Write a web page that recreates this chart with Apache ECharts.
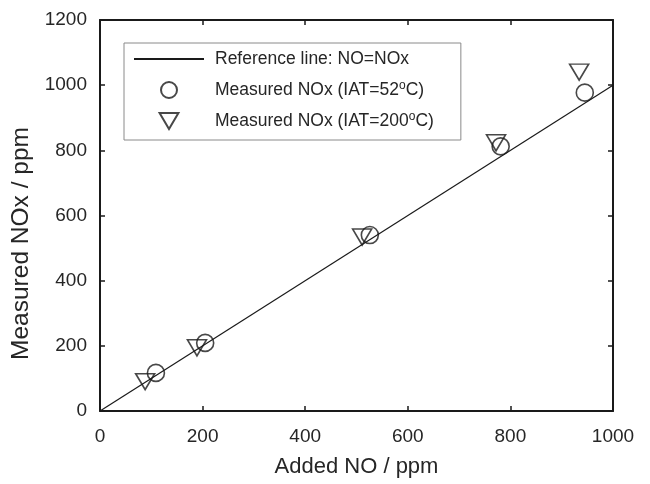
<!DOCTYPE html>
<html>
<head>
<meta charset="utf-8">
<script src="https://cdn.jsdelivr.net/npm/echarts@6/dist/echarts.min.js"></script>
<style>
  html, body { margin: 0; padding: 0; background: #fff; }
  #chart { width: 650px; height: 484px; }
</style>
</head>
<body>
<div id="chart"></div>
<script>
// reference line NO = NOx
var refX = [0, 1000];
var refY = [0, 1000];
// measured NOx, IAT = 52 C
var added52 = [109, 205, 526, 781, 945];
var meas52 = [117, 209, 540, 812, 977];
// measured NOx, IAT = 200 C
var added200 = [88, 189, 511, 772, 934];
var meas200 = [90, 194, 534, 823, 1040];

var xTicks = [0, 200, 400, 600, 800, 1000];
var yTicks = [0, 200, 400, 600, 800, 1000, 1200];

function pairs(xs, ys) {
    return xs.map(function (x, i) { return [x, ys[i]]; });
}

var myChart = echarts.init(document.getElementById('chart'));

var font = 'Liberation Sans, Arial, Helvetica, sans-serif';
var triDown = 'path://M0,0 L20,0 L10,17 Z';

var mainAxisLine = { show: true, onZero: false, lineStyle: { color: '#1a1a1a', width: 2 } };
var tickIn = { show: true, inside: true, length: 5, lineStyle: { color: '#1a1a1a', width: 1.5 } };

var option = {
    backgroundColor: '#fff',
    animation: false,
    textStyle: { fontFamily: font },
    grid: { left: 100, right: 37, top: 20, bottom: 73 },
    legend: {
        orient: 'vertical',
        left: 124,
        top: 43,
        padding: [7, 27, 10, 9],
        itemGap: 11.5,
        itemWidth: 70,
        itemHeight: 16,
        borderColor: '#8a8a8a',
        borderWidth: 1,
        backgroundColor: '#fff',
        data: ['Reference line: NO=NOx', 'Measured NOx (IAT=52oC)', 'Measured NOx (IAT=200oC)'],
        formatter: function (name) {
            return name.replace(/(\d)oC/, '$1{sup|o}C');
        },
        textStyle: {
            fontSize: 17.5,
            color: '#262626',
            padding: [0, 0, 0, 6],
            rich: {
                sup: { fontSize: 12, verticalAlign: 'top', padding: [0, 0, 9, 0], color: '#262626' }
            }
        }
    },
    xAxis: [{
        type: 'value',
        min: 0, max: 1000, interval: 200,
        name: 'Added NO / ppm',
        nameLocation: 'middle',
        nameGap: 45,
        nameTextStyle: { fontSize: 22, color: '#262626' },
        axisLine: mainAxisLine,
        axisTick: tickIn,
        axisLabel: {
            fontSize: 19, color: '#262626', margin: 16,
            formatter: function (v) { return xTicks.indexOf(v) >= 0 ? String(v) : ''; }
        },
        splitLine: { show: false }
    }, {
        type: 'value',
        position: 'top',
        min: 0, max: 1000, interval: 200,
        axisLine: mainAxisLine,
        axisTick: tickIn,
        axisLabel: { show: false },
        splitLine: { show: false }
    }],
    yAxis: [{
        type: 'value',
        min: 0, max: 1200, interval: 200,
        name: 'Measured NOx / ppm',
        nameLocation: 'middle',
        nameGap: 62,
        nameTextStyle: { fontSize: 24.5, color: '#262626', padding: [0, 56, 0, 0] },
        axisLine: mainAxisLine,
        axisTick: tickIn,
        axisLabel: {
            fontSize: 19, color: '#262626', margin: 13,
            formatter: function (v) { return yTicks.indexOf(v) >= 0 ? String(v) : ''; }
        },
        splitLine: { show: false }
    }, {
        type: 'value',
        position: 'right',
        min: 0, max: 1200, interval: 200,
        axisLine: mainAxisLine,
        axisTick: tickIn,
        axisLabel: { show: false },
        splitLine: { show: false }
    }],
    series: [{
        name: 'Reference line: NO=NOx',
        type: 'line',
        data: pairs(refX, refY),
        symbol: 'none',
        lineStyle: { color: '#1a1a1a', width: 1.2 },
        itemStyle: { color: 'rgba(0,0,0,0)', borderWidth: 0 },
        z: 2
    }, {
        name: 'Measured NOx (IAT=52oC)',
        type: 'scatter',
        data: pairs(added52, meas52),
        symbol: 'circle',
        symbolSize: 17,
        itemStyle: { color: 'rgba(0,0,0,0)', borderColor: '#1a1a1a', borderWidth: 1.6 },
        z: 3
    }, {
        name: 'Measured NOx (IAT=200oC)',
        type: 'scatter',
        data: pairs(added200, meas200),
        symbol: triDown,
        symbolSize: [19, 16],
        itemStyle: { color: 'rgba(0,0,0,0)', borderColor: '#1a1a1a', borderWidth: 1.6 },
        z: 3
    }]
};

myChart.setOption(option);
</script>
</body>
</html>
